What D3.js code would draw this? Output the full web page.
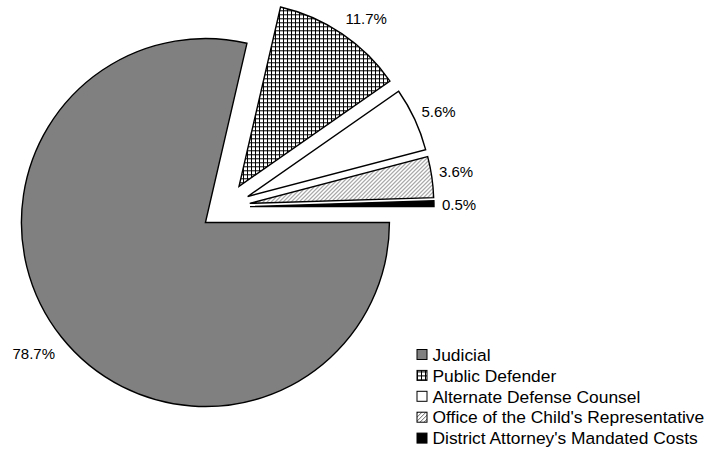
<!DOCTYPE html>
<html>
<head>
<meta charset="utf-8">
<script src="https://cdn.jsdelivr.net/npm/d3@7"></script>
<style>
html,body{margin:0;padding:0;background:#fff;}
svg{display:block;font-family:"Liberation Sans",Arial,sans-serif;}
</style>
</head>
<body>
<svg id="chart" width="712" height="456"></svg>
<script>
const categories = ["Judicial","Public Defender","Alternate Defense Counsel","Office of the Child's Representative","District Attorney's Mandated Costs"];
const values = [78.7, 11.7, 5.6, 3.6, 0.5];
const labels = ["78.7%","11.7%","5.6%","3.6%","0.5%"];

const fills = ["#808080","url(#grid)","#ffffff","url(#diag)","#000000"];
const labelPos = [[12.5,359.3],[345.5,23.5],[421.5,116.7],[439,176.7],[442,210]];

const svg = d3.select("#chart");
const defs = svg.append("defs");
const g1 = defs.append("pattern").attr("id","grid").attr("patternUnits","userSpaceOnUse")
  .attr("width",4).attr("height",4);
g1.append("rect").attr("width",4).attr("height",4).attr("fill","#fff");
g1.append("rect").attr("x",0).attr("y",0).attr("width",1).attr("height",4).attr("fill","#000");
g1.append("rect").attr("x",0).attr("y",0).attr("width",4).attr("height",1).attr("fill","#000");
const g2 = defs.append("pattern").attr("id","diag").attr("patternUnits","userSpaceOnUse")
  .attr("width",4).attr("height",4);
g2.append("rect").attr("width",4).attr("height",4).attr("fill","#fff");
g2.append("path").attr("d","M-1,1 L1,-1 M0,4 L4,0 M3,5 L5,3").attr("stroke","#555").attr("stroke-width",0.9);

const cx = 225, cy = 207, r = 184, explode = 25;
const pie = d3.pie().sort(null).startAngle(Math.PI/2).endAngle(Math.PI/2 + 2*Math.PI);
const arcs = pie(values);
const arc = d3.arc().innerRadius(0).outerRadius(r);

const gp = svg.append("g").attr("transform",`translate(${cx},${cy})`);
gp.selectAll("path.slice").data(arcs).enter().append("path")
  .attr("class","slice")
  .attr("transform", d => {
    const m = (d.startAngle + d.endAngle)/2;
    return `translate(${explode*Math.sin(m)},${-explode*Math.cos(m)})`;
  })
  .attr("d", arc)
  .attr("fill", (d,i) => fills[i])
  .attr("stroke","#000")
  .attr("stroke-width",1.4)
  .attr("stroke-linejoin","miter");

svg.selectAll("text.lbl").data(labels).enter().append("text")
  .attr("class","lbl")
  .attr("x",(d,i)=>labelPos[i][0])
  .attr("y",(d,i)=>labelPos[i][1])
  .attr("font-size","15px")
  .attr("fill","#000")
  .text(d=>d);

const lg = svg.append("g");
const rows = lg.selectAll("g").data(categories).enter().append("g")
  .attr("transform",(d,i)=>`translate(417,${354.5 + i*20.9})`);
rows.append("rect").attr("x",0).attr("y",-5).attr("width",10).attr("height",10)
  .attr("fill",(d,i)=>fills[i]).attr("stroke","#000").attr("stroke-width",1);
rows.append("text").attr("x",15.5).attr("y",6.2).attr("font-size","17.4px").attr("fill","#000")
  .text(d=>d);
</script>
</body>
</html>
